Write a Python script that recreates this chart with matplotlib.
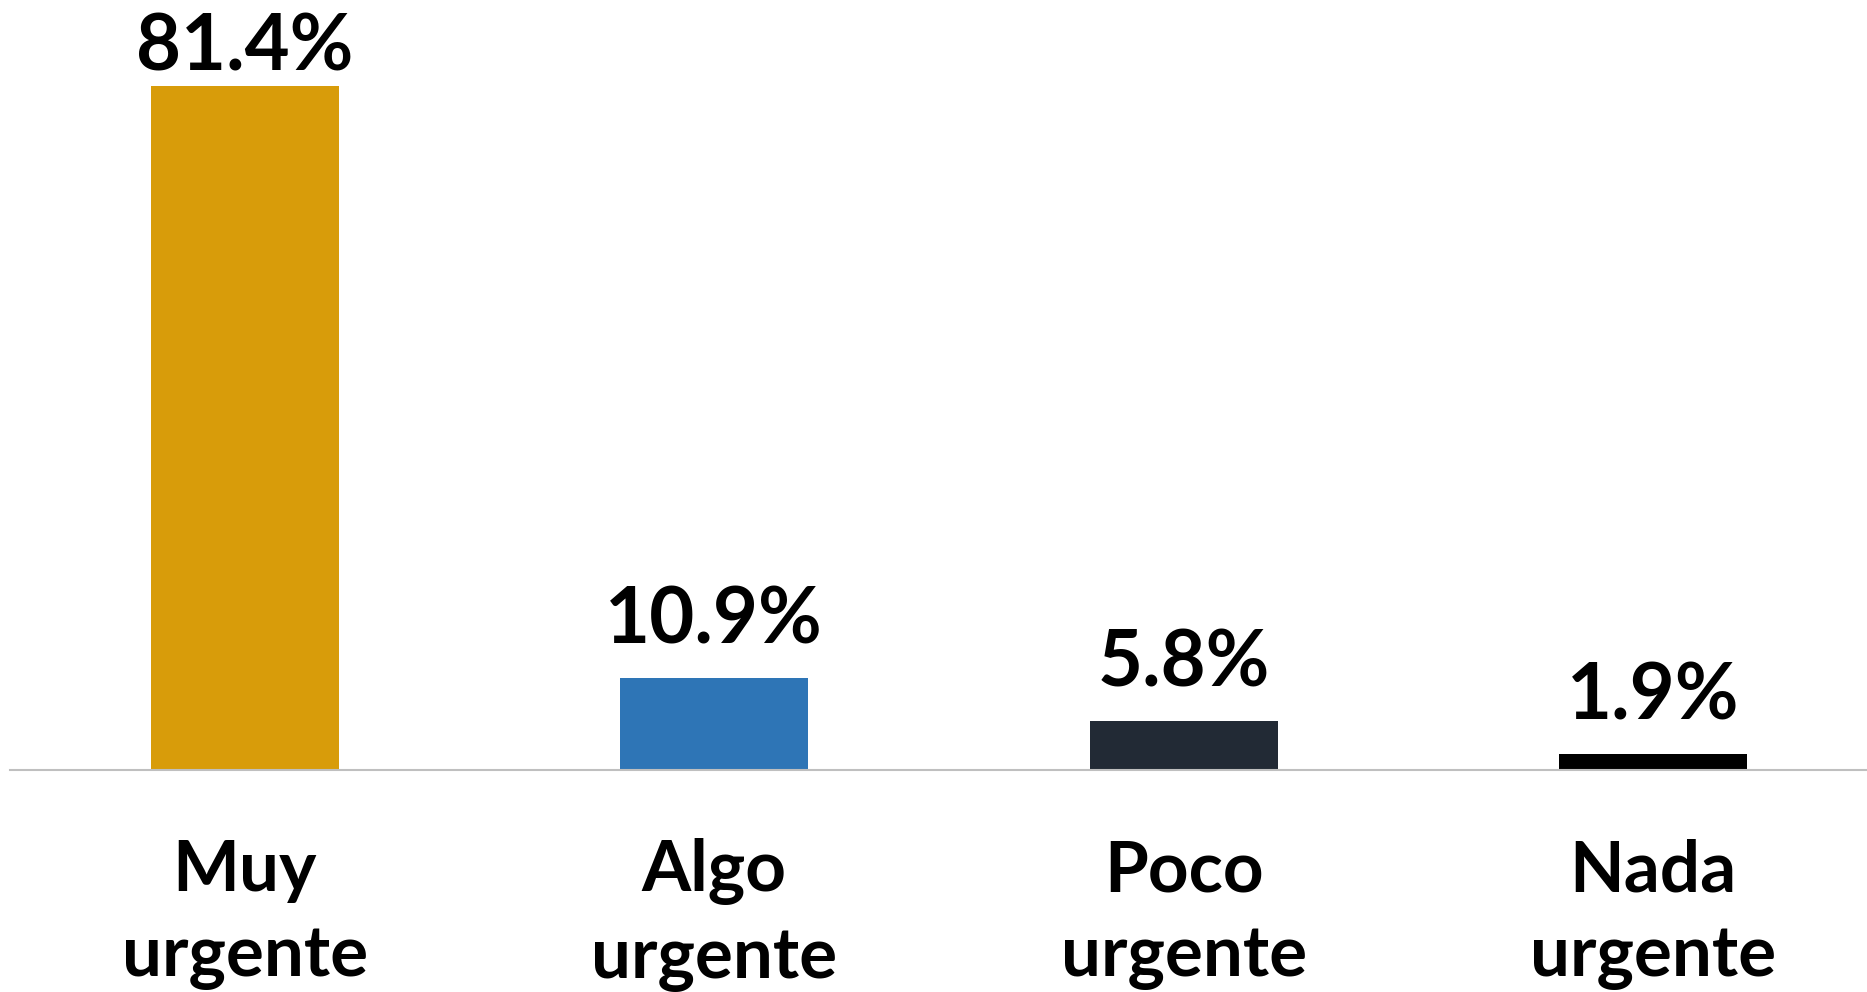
import matplotlib
matplotlib.use("Agg")
import matplotlib.pyplot as plt

categories = ["Muy\nurgente", "Algo\nurgente", "Poco\nurgente", "Nada\nurgente"]
values = [81.4, 10.9, 5.8, 1.9]
value_labels = ["81.4%", "10.9%", "5.8%", "1.9%"]
colors = ["#D89C0A", "#2E75B6", "#222A35", "#000000"]
label_pad_pt = [11, 25, 25, 25]

plt.rcParams['font.family'] = ['Lato', 'DejaVu Sans']

fig = plt.figure(figsize=(18.67, 9.92), dpi=100)
W, H = 1867, 992
left_px, base_px, spacing = 10, 770, 469.5
ax = fig.add_axes([left_px / W, (H - base_px) / H, 4 * spacing / W, base_px / H])

x = list(range(len(categories)))
ax.bar(x, values, width=0.4, color=colors, zorder=2)
ax.set_xlim(-0.5, 3.5)
ax.set_ylim(0, base_px / 8.403)

for xi, v, lab, pad in zip(x, values, value_labels, label_pad_pt):
    ax.annotate(lab, (xi, v), xytext=(0, pad), textcoords="offset points",
                ha="center", va="baseline", fontsize=56, fontweight="bold", color="black")

for s in ["top", "right", "left"]:
    ax.spines[s].set_visible(False)
ax.spines["bottom"].set_color("#BFBFBF")
ax.spines["bottom"].set_linewidth(1.5)
ax.set_yticks([])
ax.set_xticks(x)
ax.set_xticklabels(categories, fontsize=51, fontweight="bold", linespacing=1.38)
ax.tick_params(axis="x", length=0, pad=49)

fig.savefig("out.png", dpi=100, facecolor="white")
